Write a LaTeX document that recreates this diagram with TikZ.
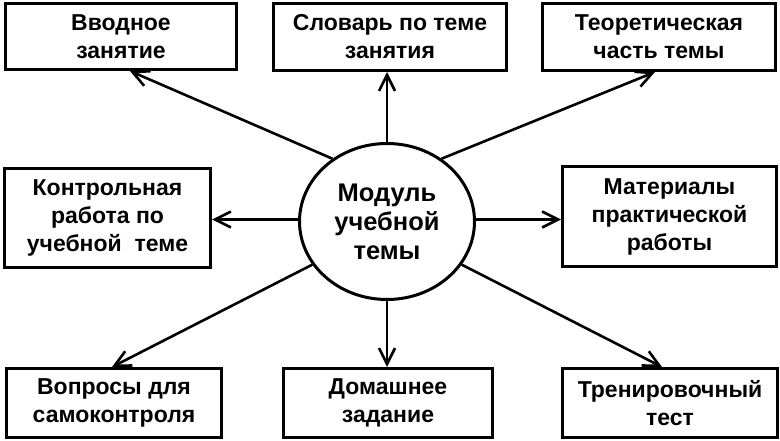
\documentclass[tikz,border=0pt]{standalone}
\usepackage{fontspec}
\setmainfont{Liberation Sans}
\usetikzlibrary{shapes.geometric,arrows.meta}

\begin{document}
\begin{tikzpicture}[x=1pt,y=-1pt,
    box/.style={draw,rectangle,line width=3pt,align=center,inner sep=0pt,
        font=\fontsize{23}{28}\selectfont\bfseries},
    modul/.style={draw,ellipse,line width=3pt,align=center,inner sep=0pt,
        minimum width=175pt,minimum height=156pt,
        font=\fontsize{25.5}{29}\selectfont\bfseries},
    arr/.style={line width=2.6pt,-{Straight Barb[length=16pt,width=16pt]}}]
    \useasboundingbox (0,0) rectangle (780,441);

    % centre
    \node[modul] (mod) at (387,221.5) {Модуль\\учебной\\темы};

    % top row
    \node[box,minimum width=231pt,minimum height=66pt] (vvod) at (121,36.5) {Вводное\\занятие};
    \node[box,minimum width=233pt,minimum height=67pt] (slovar) at (390,37) {Словарь по теме\\занятия};
    \node[box,minimum width=233pt,minimum height=67pt] (teor) at (659,37) {Теоретическая\\часть темы};

    % middle row
    \node[box,minimum width=206pt,minimum height=99pt] (kontr) at (107.5,218) {Контрольная\\работа по\\учебной\ \ теме};
    \node[box,minimum width=214pt,minimum height=100pt] (mater) at (669.5,216.5) {Материалы\\практической\\работы};

    % bottom row
    \node[box,minimum width=215pt,minimum height=69pt] (vopr) at (114,403) {Вопросы для\\самоконтроля};
    \node[box,minimum width=209pt,minimum height=69pt] (dom) at (388,403) {Домашнее\\задание};
    \node[box,minimum width=215pt,minimum height=69pt] (tren) at (670,403) {Тренировочный\\тест};

    % arrows
    \draw[arr] (mod.131) -- ([xshift=9pt]vvod.south);
    \draw[arr] (mod.north) -- (mod.north |- slovar.south);
    \draw[arr] (mod.49) -- ([xshift=-4pt]teor.south);
    \draw[arr] ([yshift=2pt]mod.west) -- ([yshift=2pt]mod.west -| kontr.east);
    \draw[arr] ([yshift=2pt]mod.east) -- ([yshift=2pt]mod.east -| mater.west);
    \draw[arr] (mod.210) -- ([xshift=-2pt]vopr.north);
    \draw[arr] (mod.south) -- (mod.south |- dom.north);
    \draw[arr] (mod.330) -- ([xshift=-8pt]tren.north);
\end{tikzpicture}
\end{document}
